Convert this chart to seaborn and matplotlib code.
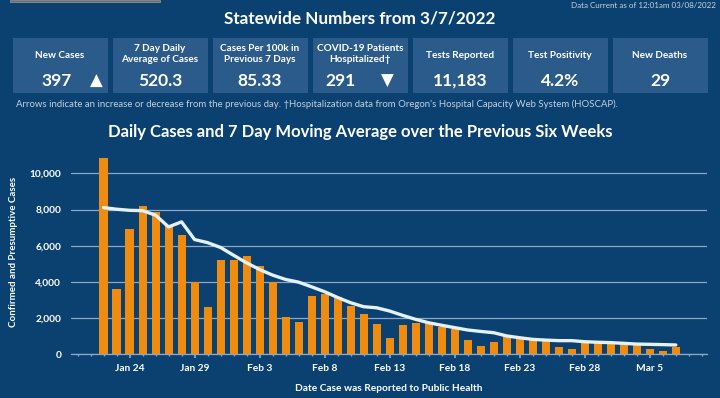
import numpy as np
import pandas as pd
import matplotlib
matplotlib.use("Agg")
import matplotlib.pyplot as plt
from matplotlib.patches import Rectangle
from matplotlib.ticker import FuncFormatter, MultipleLocator
import seaborn as sns

# Data
dates = pd.date_range("2022-01-22", "2022-03-07", freq="D")
cases = [10870, 3600, 6910, 8200, 7870, 7080, 6580, 3980, 2600, 5180,
         5200, 5420, 4870, 3980, 2030, 1790, 3240, 3300, 3130, 2650,
         2190, 1640, 870, 1600, 1700, 1790, 1510, 1360, 770, 460,
         680, 1010, 810, 770, 850, 400, 280, 660, 590, 550,
         590, 500, 280, 170, 397]
avg7 = [8110, 8020, 7960, 7940, 7690, 7040, 7320, 6340, 6170, 5900,
        5470, 5050, 4680, 4370, 4130, 3980, 3720, 3450, 3130, 2840,
        2620, 2560, 2380, 2140, 1920, 1730, 1590, 1460, 1330, 1250,
        1180, 1000, 900, 810, 770, 740, 740, 680, 650, 630,
        590, 550, 535, 520, 500]
tick_labels = ["Jan 24", "Jan 29", "Feb 3", "Feb 8", "Feb 13",
               "Feb 18", "Feb 23", "Feb 28", "Mar 5"]

stat_titles = ["New Cases", "7 Day Daily\nAverage of Cases", "Cases Per 100k in\nPrevious 7 Days",
               "COVID-19 Patients\nHospitalized\u2020", "Tests Reported", "Test Positivity", "New Deaths"]
stat_values = ["397", "520.3", "85.33", "291", "11,183", "4.2%", "29"]
stat_arrows = ["\u25b2", "", "", "\u25bc", "", "", ""]

BG = "#0b4170"
BOX = "#2b5b8a"
ORANGE = "#ef8c10"
LINE = "#e4f1f6"
GRID = "#8ea8c3"

sns.set_theme(style="dark")
plt.rcParams["font.family"] = ["Lato", "DejaVu Sans"]

df = pd.DataFrame({"day": np.arange(len(cases)), "date": dates, "cases": cases, "avg": avg7})

W, H = 720, 398
fig = plt.figure(figsize=(7.2, 3.98), dpi=100, facecolor=BG)

def fx(px):
    return px / W

def fy(py):
    return 1 - py / H

# grey tab strip at the very top
fig.patches.append(Rectangle((fx(10), fy(2)), fx(150), 2 / H, transform=fig.transFigure,
                             facecolor="#6e6e6e", edgecolor="#9a9a9a", lw=0.5))

fig.text(fx(716), fy(5), "Data Current as of 12:01am 03/08/2022", ha="right", va="center",
         fontsize=5.8, color="#c9d3de")
fig.text(0.5, fy(19), "Statewide Numbers from 3/7/2022", ha="center", va="center",
         fontsize=12.3, fontweight="bold", color="white")

# stat boxes
arrow_layout = {0: (57, 96), 3: (340, 387)}
for i in range(7):
    x0 = 13 + i * 100
    fig.patches.append(Rectangle((fx(x0), fy(92.7)), fx(94.5), 54.4 / H,
                                 transform=fig.transFigure, facecolor=BOX, edgecolor="none"))
    cx = x0 + 47
    lines = stat_titles[i].count("\n") + 1
    ty = 55 if lines == 1 else 54
    fig.text(fx(cx), fy(ty), stat_titles[i], ha="center", va="center", fontsize=7.2,
             fontweight="bold", color="white", linespacing=1.35)
    if stat_arrows[i]:
        vx, axx = arrow_layout[i]
        fig.text(fx(vx), fy(81), stat_values[i], ha="center", va="center", fontsize=12.5,
                 fontweight="bold", color="white")
        fig.text(fx(axx), fy(81), stat_arrows[i], ha="center", va="center", fontsize=12,
                 color="white", family=["DejaVu Sans"])
    else:
        fig.text(fx(cx), fy(81), stat_values[i], ha="center", va="center", fontsize=12.5,
                 fontweight="bold", color="white")

fig.text(fx(16), fy(104), "Arrows indicate an increase or decrease from the previous day. "
         "\u2020Hospitalization data from Oregon's Hospital Capacity Web System (HOSCAP).",
         ha="left", va="center", fontsize=6.9, color="#c5cfdb")

fig.text(0.5, fy(132), "Daily Cases and 7 Day Moving Average over the Previous Six Weeks",
         ha="center", va="center", fontsize=12, fontweight="bold", color="white")

# chart
ax = fig.add_axes([fx(71), fy(354), fx(707 - 71), (354 - 150) / H])
ax.set_facecolor(BG)
sns.barplot(data=df, x="day", y="cases", native_scale=True, color=ORANGE, saturation=1,
            width=0.62, edgecolor="none", linewidth=0, ax=ax, zorder=2)
sns.lineplot(data=df, x="day", y="avg", color=LINE, linewidth=2.4, ax=ax, zorder=3)

ax.set_xlim(-2.5, 46.4)
ax.set_ylim(0, 11300)
ax.set_yticks(range(0, 10001, 2000))
ax.yaxis.set_major_formatter(FuncFormatter(lambda v, p: f"{int(v):,}"))
ax.yaxis.grid(True, color=GRID, linewidth=0.9)
ax.xaxis.grid(False)
ax.set_axisbelow(True)

ax.set_xticks(list(range(2, 45, 5)))
ax.set_xticklabels(tick_labels)
ax.xaxis.set_minor_locator(MultipleLocator(1))
ax.tick_params(axis="x", which="major", length=3, color=GRID, labelsize=7.3, labelcolor="white", pad=4)
ax.tick_params(axis="x", which="minor", length=1.5, color=GRID)
ax.tick_params(axis="y", length=0, labelsize=7.3, labelcolor="white", pad=7)
ax.tick_params(axis="x", which="both", bottom=True)
for lab in ax.get_xticklabels() + ax.get_yticklabels():
    lab.set_fontweight("bold")

for s in ["top", "right", "left"]:
    ax.spines[s].set_visible(False)
ax.spines["bottom"].set_color(GRID)
ax.spines["bottom"].set_linewidth(0.9)

ax.set_xlabel("Date Case was Reported to Public Health", fontsize=7.3, fontweight="bold",
              color="white", labelpad=8)
ax.set_ylabel("Confirmed and Presumptive Cases", fontsize=7, fontweight="bold",
              color="white", labelpad=8)

fig.savefig("out.png", dpi=100, facecolor=BG)
